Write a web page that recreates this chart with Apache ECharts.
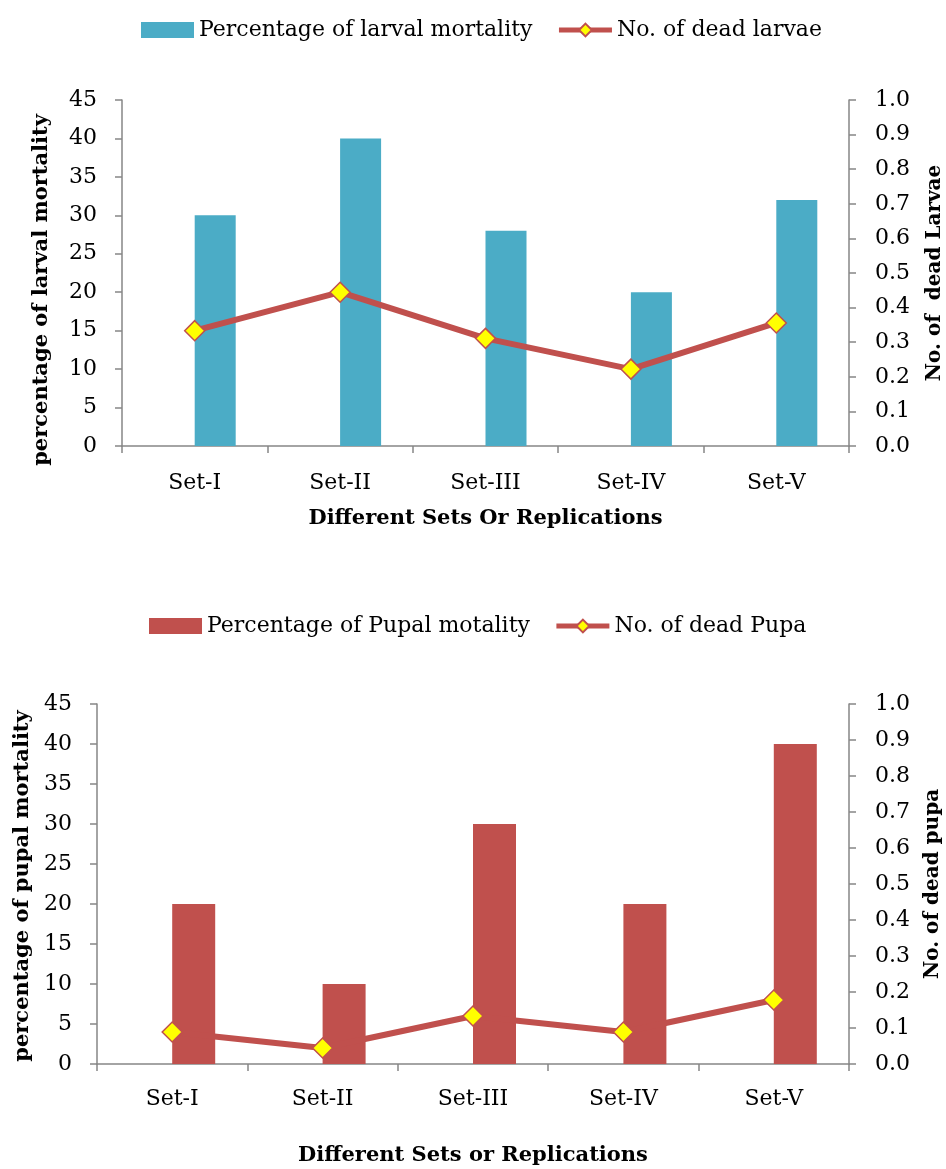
<!DOCTYPE html>
<html>
<head>
<meta charset="utf-8">
<script src="https://cdn.jsdelivr.net/npm/echarts@6/dist/echarts.min.js"></script>
<style>
  html, body { margin: 0; padding: 0; background: #fff; }
  #main { width: 946px; height: 1169px; }
</style>
</head>
<body>
<div id="main"></div>
<script>
const sets = ['Set-I', 'Set-II', 'Set-III', 'Set-IV', 'Set-V']
// larval chart
const larvalMortality = [30, 40, 28, 20, 32]
const deadLarvae = [15, 20, 14, 10, 16]
// pupal chart
const pupalMortality = [20, 10, 30, 20, 40]
const deadPupa = [4, 2, 6, 4, 8]
const empty = ['-', '-', '-', '-', '-']

const font = 'DejaVu Serif'
const axisGray = '#868686'
const red = '#C0504D'
const blue = '#4BACC6'

function leftAxis(idx, name, gap, pad) {
  return {
    type: 'value', gridIndex: idx, position: 'left',
    min: 0, max: 45, interval: 5,
    name: name, nameLocation: 'middle', nameGap: gap, nameRotate: 90,
    nameTextStyle: { fontFamily: font, fontWeight: 'bold', fontSize: 21, color: '#000',
      padding: [0, pad, 0, 0] },
    axisLine: { show: true, lineStyle: { color: axisGray, width: 1.5 } },
    axisTick: { show: true, length: 7, lineStyle: { color: axisGray, width: 1.5 } },
    axisLabel: { fontFamily: font, fontSize: 22, color: '#000', margin: 25 },
    splitLine: { show: false }
  }
}

function rightAxis(idx, name, gap) {
  return {
    type: 'value', gridIndex: idx, position: 'right',
    min: 0, max: 1, interval: 0.1,
    name: name, nameLocation: 'middle', nameGap: gap, nameRotate: 90,
    nameTextStyle: { fontFamily: font, fontWeight: 'bold', fontSize: 20, color: '#000' },
    axisLine: { show: true, lineStyle: { color: axisGray, width: 1.5 } },
    axisTick: { show: true, length: 7, lineStyle: { color: axisGray, width: 1.5 } },
    axisLabel: { fontFamily: font, fontSize: 22, color: '#000', margin: 26,
      formatter: v => v.toFixed(1) },
    splitLine: { show: false }
  }
}

function catAxis(idx, name, gap, margin) {
  return {
    type: 'category', gridIndex: idx, data: sets,
    name: name, nameLocation: 'middle', nameGap: gap,
    nameTextStyle: { fontFamily: font, fontWeight: 'bold', fontSize: 21, color: '#000' },
    axisLine: { lineStyle: { color: axisGray, width: 1.5 } },
    axisTick: { show: true, length: 7, alignWithLabel: false, lineStyle: { color: axisGray, width: 1.5 } },
    axisLabel: { fontFamily: font, fontSize: 22, color: '#000', margin: margin }
  }
}

function lineSeries(name, xi, yi, data) {
  return {
    name: name, type: 'line', xAxisIndex: xi, yAxisIndex: yi, data: data,
    symbol: 'diamond', symbolSize: 20,
    lineStyle: { color: red, width: 6 },
    itemStyle: { color: '#FFFF00', borderColor: red, borderWidth: 1.5 },
    z: 5
  }
}

function legendOf(barName, lineName, left, top) {
  return {
    data: [{ name: barName, icon: 'rect' }, { name: lineName }],
    left: left, top: top, itemWidth: 53, itemHeight: 16, itemGap: 24,
    lineStyle: { width: 5 },
    textStyle: { fontFamily: font, fontSize: 22, color: '#000' }
  }
}

const chart = echarts.init(document.getElementById('main'))
chart.setOption({
  animation: false,
  legend: [
    legendOf('Percentage of larval mortality', 'No. of dead larvae', 136, 14),
    legendOf('Percentage of Pupal motality', 'No. of dead Pupa', 144, 610)
  ],
  grid: [
    { left: 122, right: 97, top: 100, height: 346, outerBoundsMode: 'none' },
    { left: 97, right: 97, top: 704, height: 360, outerBoundsMode: 'none' }
  ],
  xAxis: [
    catAxis(0, 'Different Sets Or Replications', 62, 26),
    catAxis(1, 'Different Sets or Replications', 81, 24)
  ],
  yAxis: [
    leftAxis(0, 'percentage of larval mortality', 70, 34),
    rightAxis(0, 'No. of  dead Larvae', 76),
    leftAxis(1, 'percentage of pupal mortality', 49, 4),
    rightAxis(1, 'No. of dead pupa', 74)
  ],
  series: [
    { type: 'bar', xAxisIndex: 0, yAxisIndex: 0, data: empty, barWidth: 41, barGap: '0%' },
    { name: 'Percentage of larval mortality', type: 'bar', xAxisIndex: 0, yAxisIndex: 0,
      data: larvalMortality, barWidth: 41, barGap: '0%', itemStyle: { color: blue } },
    lineSeries('No. of dead larvae', 0, 0, deadLarvae),
    { type: 'bar', xAxisIndex: 1, yAxisIndex: 2, data: empty, barWidth: 43, barGap: '0%' },
    { name: 'Percentage of Pupal motality', type: 'bar', xAxisIndex: 1, yAxisIndex: 2,
      data: pupalMortality, barWidth: 43, barGap: '0%', itemStyle: { color: red } },
    lineSeries('No. of dead Pupa', 1, 2, deadPupa)
  ]
})
</script>
</body>
</html>
